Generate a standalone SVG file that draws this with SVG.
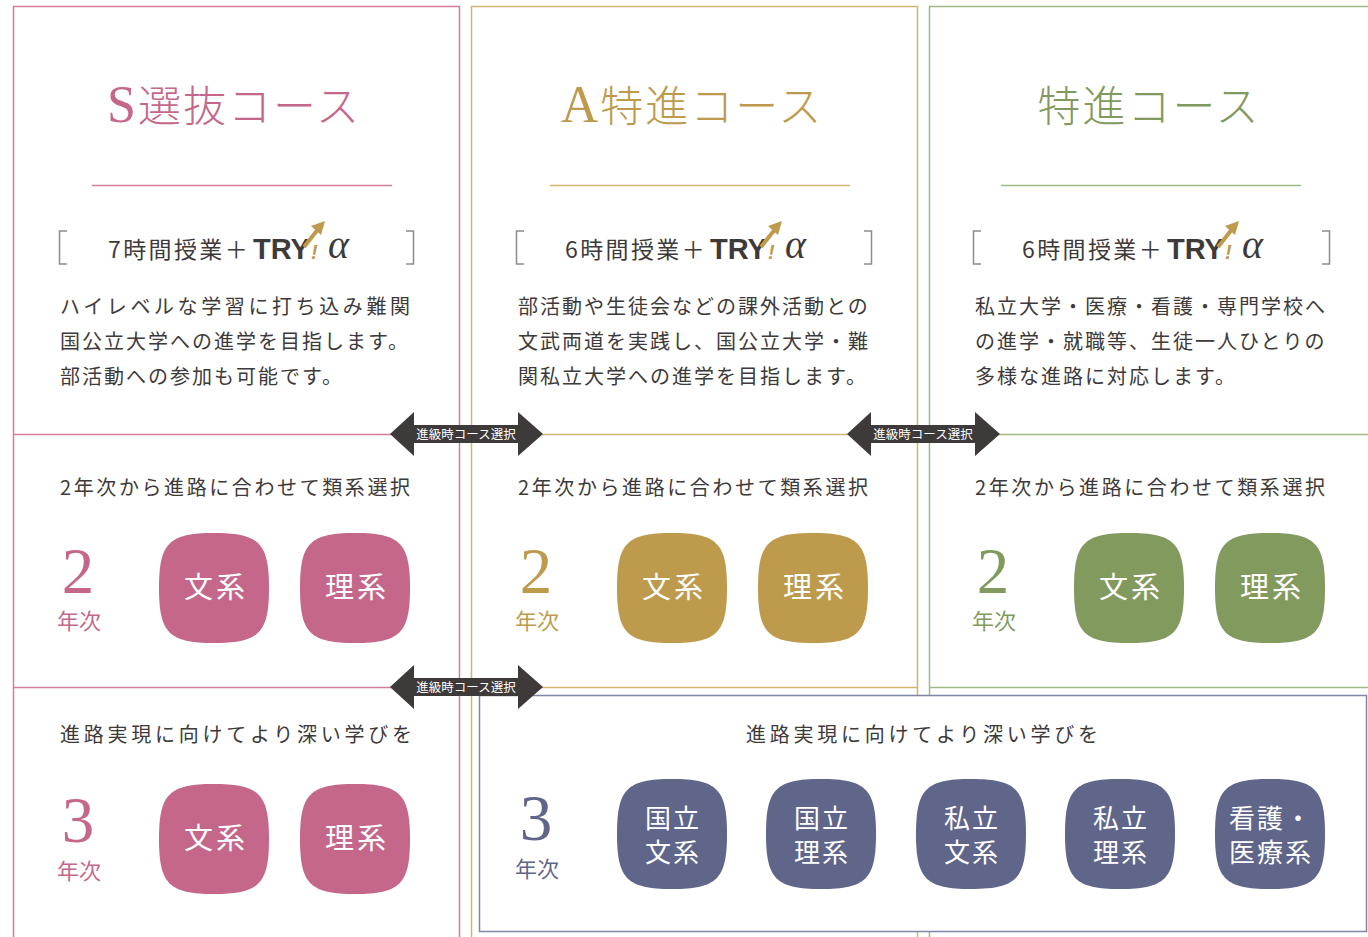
<svg xmlns="http://www.w3.org/2000/svg" xmlns:xlink="http://www.w3.org/1999/xlink" width="1368" height="937" viewBox="0 0 1368 937">
<defs>
<style>
.ttl{font-family:"Liberation Serif","Noto Sans CJK JP",serif;font-size:43px;font-weight:300;text-anchor:middle;letter-spacing:2px}
.cap{font-size:52px}
.desc{font-family:"Noto Sans CJK JP",sans-serif;font-size:20px;fill:#3e3a39;letter-spacing:2px}
.sub{font-family:"Noto Sans CJK JP",sans-serif;font-size:23px;fill:#3e3a39;letter-spacing:2.4px}
.try{font-family:"Liberation Sans",Arial,sans-serif;font-size:29px;font-weight:bold;fill:#3e3a39}
.alpha{font-family:"Liberation Serif",serif;font-size:40px;font-style:italic;fill:#3e3a39}
.big{font-family:"Liberation Serif",serif;font-size:65px;text-anchor:middle}
.yr{font-family:"Noto Sans CJK JP",sans-serif;font-size:22px;text-anchor:middle}
.nd{font-family:"Noto Sans CJK JP",sans-serif;font-size:29px;fill:#fff;text-anchor:middle;letter-spacing:3px}
.nd2{font-family:"Noto Sans CJK JP",sans-serif;font-size:26px;fill:#fff;text-anchor:middle;letter-spacing:2px}
.arrtx{font-family:"Noto Sans CJK JP",sans-serif;font-size:12.5px;fill:#fff;text-anchor:middle}
.brk{fill:none;stroke:#8c8c8c;stroke-width:1.5}
.pink{fill:#c4678a}.gold{fill:#bd9a4c}.green{fill:#839a5f}.purple{fill:#5f668a}
</style>
<path id="sq" d="M0,-55 C45,-55 55,-45 55,0 C55,45 45,55 0,55 C-45,55 -55,45 -55,0 C-55,-45 -45,-55 0,-55 Z"/>
<path id="dbl" d="M-76,0 L-52,-22 L-52,-9 L52,-9 L52,-22 L77,0 L52,22 L52,9 L-52,9 L-52,22 Z" fill="#3e3a39"/>
<g id="logo">
<text class="try" x="0" y="259">TRY</text>
<path d="M51,247 L66,228" stroke="#bd9a4c" stroke-width="4" fill="none"/>
<polygon points="72,221 58,226 68,235" fill="#bd9a4c"/>
<text x="58" y="259" font-family="Liberation Sans,sans-serif" font-size="20" font-weight="bold" font-style="italic" fill="#bd9a4c">!</text>
<text class="alpha" x="75" y="258">α</text>
</g>
</defs>
<rect width="1368" height="937" fill="#fff"/>

<g id="frame-s" fill="none" stroke="#d27f9e" stroke-width="1.5">
<path d="M13.5,945 V6.5 H459.5 V945"/>
<path d="M13.5,434.5 H459.5 M13.5,687.5 H459.5"/>
<path d="M92,185.5 H392"/>
</g>
<g id="frame-a" fill="none" stroke="#d4b56f" stroke-width="1.5">
<path d="M471.5,945 V6.5 H917.5 V945"/>
<path d="M471.5,434.5 H917.5 M471.5,687.5 H917.5"/>
<path d="M550,185.5 H850"/>
</g>
<g id="frame-t" fill="none" stroke="#a0b882" stroke-width="1.5">
<path d="M929.5,945 V6.5 H1370"/>
<path d="M929.5,434.5 H1370 M929.5,687.5 H1370"/>
<path d="M1001,185.5 H1301"/>
</g>
<rect id="frame-y3" x="479.5" y="695.5" width="887" height="236" fill="#fff" stroke="#7f86a6" stroke-width="1.5"/>

<g id="course-s">
<text class="ttl" x="234" y="122" fill="#c4678a"><tspan class="cap">S</tspan>選抜コース</text>
<path class="brk" d="M67,231 H59.5 V264 H67 M406,231 H413.5 V264 H406"/>
<text class="sub" x="108" y="258">7時間授業＋</text>
<use xlink:href="#logo" href="#logo" x="253"/>
<text class="desc" x="60" y="314" textLength="352" lengthAdjust="spacing">ハイレベルな学習に打ち込み難関</text>
<text class="desc" x="60" y="349">国公立大学への進学を目指します。</text>
<text class="desc" x="60" y="384">部活動への参加も可能です。</text>
</g>
<g id="course-a">
<text class="ttl" x="692" y="122" fill="#bd9a4c"><tspan class="cap">A</tspan>特進コース</text>
<path class="brk" d="M524,231 H516.5 V264 H524 M864,231 H871.5 V264 H864"/>
<text class="sub" x="565" y="258">6時間授業＋</text>
<use xlink:href="#logo" href="#logo" x="710"/>
<text class="desc" x="518" y="314">部活動や生徒会などの課外活動との</text>
<text class="desc" x="518" y="349">文武両道を実践し、国公立大学・難</text>
<text class="desc" x="518" y="384">関私立大学への進学を目指します。</text>
</g>
<g id="course-t">
<text class="ttl" x="1149" y="122" fill="#839a5f">特進コース</text>
<path class="brk" d="M981,231 H973.5 V264 H981 M1322,231 H1329.5 V264 H1322"/>
<text class="sub" x="1022" y="258">6時間授業＋</text>
<use xlink:href="#logo" href="#logo" x="1167"/>
<text class="desc" x="975" y="314">私立大学・医療・看護・専門学校へ</text>
<text class="desc" x="975" y="349">の進学・就職等、生徒一人ひとりの</text>
<text class="desc" x="975" y="384">多様な進路に対応します。</text>
</g>

<g id="y2-s">
<text class="desc" x="60" y="495" textLength="352" lengthAdjust="spacing">2年次から進路に合わせて類系選択</text>
<text class="big pink" x="78" y="593">2</text>
<text class="yr pink" x="79" y="629">年次</text>
</g>
<g id="y2-s-bun"><use href="#sq" xlink:href="#sq" x="214" y="588" class="pink"/><text class="nd" x="216" y="598">文系</text></g>
<g id="y2-s-ri"><use href="#sq" xlink:href="#sq" x="355" y="588" class="pink"/><text class="nd" x="357" y="598">理系</text></g>

<g id="y2-a">
<text class="desc" x="518" y="495" textLength="352" lengthAdjust="spacing">2年次から進路に合わせて類系選択</text>
<text class="big gold" x="536" y="593">2</text>
<text class="yr gold" x="537" y="629">年次</text>
</g>
<g id="y2-a-bun"><use href="#sq" xlink:href="#sq" x="672" y="588" class="gold"/><text class="nd" x="674" y="598">文系</text></g>
<g id="y2-a-ri"><use href="#sq" xlink:href="#sq" x="813" y="588" class="gold"/><text class="nd" x="815" y="598">理系</text></g>

<g id="y2-t">
<text class="desc" x="975" y="495" textLength="352" lengthAdjust="spacing">2年次から進路に合わせて類系選択</text>
<text class="big green" x="993" y="593">2</text>
<text class="yr green" x="994" y="629">年次</text>
</g>
<g id="y2-t-bun"><use href="#sq" xlink:href="#sq" x="1129" y="588" class="green"/><text class="nd" x="1131" y="598">文系</text></g>
<g id="y2-t-ri"><use href="#sq" xlink:href="#sq" x="1270" y="588" class="green"/><text class="nd" x="1272" y="598">理系</text></g>

<g id="y3-s">
<text class="desc" x="60" y="742" textLength="354" lengthAdjust="spacing">進路実現に向けてより深い学びを</text>
<text class="big pink" x="78" y="842">3</text>
<text class="yr pink" x="79" y="879">年次</text>
</g>
<g id="y3-s-bun"><use href="#sq" xlink:href="#sq" x="214" y="839" class="pink"/><text class="nd" x="216" y="849">文系</text></g>
<g id="y3-s-ri"><use href="#sq" xlink:href="#sq" x="355" y="839" class="pink"/><text class="nd" x="357" y="849">理系</text></g>

<g id="y3-ta">
<text class="desc" x="746" y="742" textLength="354" lengthAdjust="spacing">進路実現に向けてより深い学びを</text>
<text class="big purple" x="536" y="840">3</text>
<text class="yr purple" x="537" y="877">年次</text>
</g>
<g id="y3-kb"><use href="#sq" xlink:href="#sq" x="672" y="834" class="purple"/><text class="nd2" x="673" y="828">国立</text><text class="nd2" x="673" y="862">文系</text></g>
<g id="y3-kr"><use href="#sq" xlink:href="#sq" x="821" y="834" class="purple"/><text class="nd2" x="822" y="828">国立</text><text class="nd2" x="822" y="862">理系</text></g>
<g id="y3-sb"><use href="#sq" xlink:href="#sq" x="971" y="834" class="purple"/><text class="nd2" x="972" y="828">私立</text><text class="nd2" x="972" y="862">文系</text></g>
<g id="y3-sr"><use href="#sq" xlink:href="#sq" x="1120" y="834" class="purple"/><text class="nd2" x="1121" y="828">私立</text><text class="nd2" x="1121" y="862">理系</text></g>
<g id="y3-km"><use href="#sq" xlink:href="#sq" x="1270" y="834" class="purple"/><text class="nd2" x="1271" y="828">看護・</text><text class="nd2" x="1271" y="862">医療系</text></g>

<g id="connectors">
<use href="#dbl" xlink:href="#dbl" x="466" y="434"/>
<text class="arrtx" x="466" y="438.5">進級時コース選択</text>
<use href="#dbl" xlink:href="#dbl" x="923" y="434"/>
<text class="arrtx" x="923" y="438.5">進級時コース選択</text>
<use href="#dbl" xlink:href="#dbl" x="466" y="687"/>
<text class="arrtx" x="466" y="691.5">進級時コース選択</text>
</g>
</svg>
